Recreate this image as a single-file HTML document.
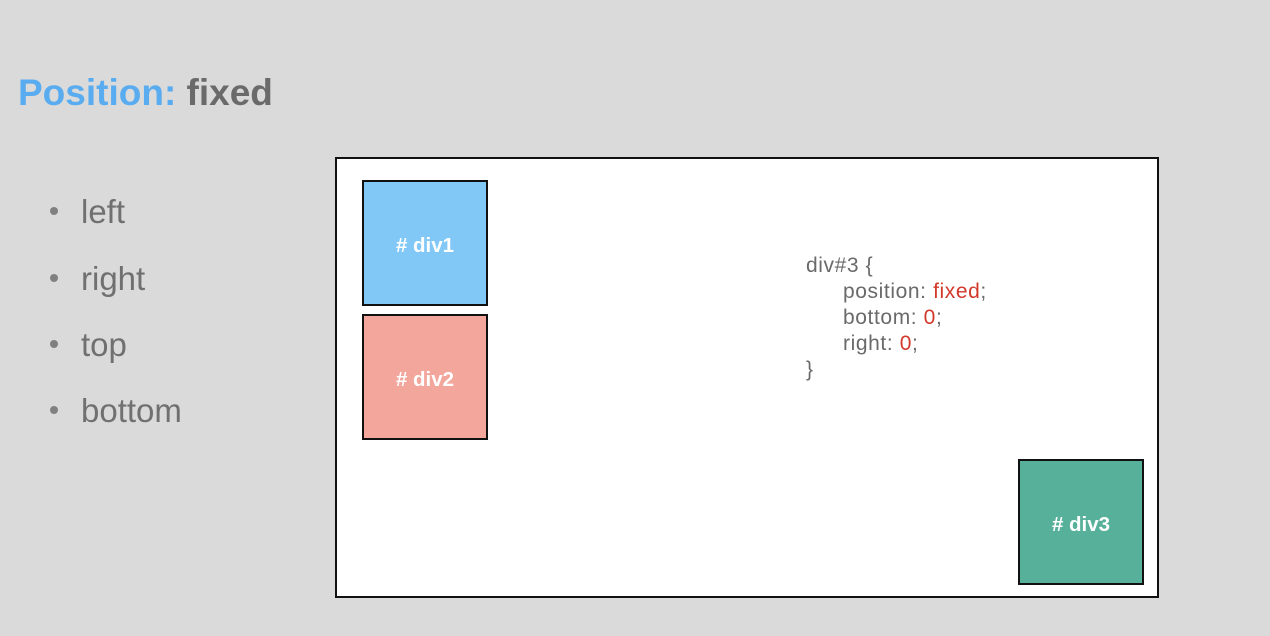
<!DOCTYPE html>
<html><head><meta charset="utf-8"><style>
body{margin:0;width:1270px;height:636px;background:#dadada;font-family:"Liberation Sans",sans-serif;position:relative;overflow:hidden}
.abs{position:absolute}
#title{left:18px;top:72px;font-size:37px;font-weight:bold;color:#6a6a6a;white-space:nowrap}
#title span{color:#5aacf0}
.bullet{left:50px;font-size:33px;color:#707070;white-space:nowrap;line-height:36px}
.bullet b{display:inline-block;width:8px;height:8px;border-radius:50%;background:#808080;margin-right:23px;vertical-align:middle;position:relative;top:-3px}
#frame{left:335px;top:157px;width:820px;height:437px;background:#fff;border:2px solid #111}
.box{width:122px;height:122px;border:2px solid #111;color:#fff;font-size:20.5px;font-weight:bold;display:flex;align-items:center;justify-content:center;box-sizing:content-box;padding-top:0}
.box span{position:relative;top:3px}
#code{left:806px;top:253px;font-size:21px;line-height:26px;color:#6a6a6a;white-space:pre;letter-spacing:0.6px}
#code .r{color:#d2392b}
#code .i{padding-left:37px}
</style></head><body>
<div id="title" class="abs"><span>Position:</span> fixed</div>
<div class="abs bullet" style="top:194px"><b></b>left</div>
<div class="abs bullet" style="top:261px"><b></b>right</div>
<div class="abs bullet" style="top:327px"><b></b>top</div>
<div class="abs bullet" style="top:393px"><b></b>bottom</div>
<div id="frame" class="abs"></div>
<div class="abs box" style="left:362px;top:180px;background:#82c8f6"><span># div1</span></div>
<div class="abs box" style="left:362px;top:314px;background:#f2a69c"><span># div2</span></div>
<div class="abs box" style="left:1018px;top:459px;background:#56b09a"><span># div3</span></div>
<div id="code" class="abs"><div>div#3 {</div><div class="i">position: <span class="r">fixed</span>;</div><div class="i">bottom: <span class="r">0</span>;</div><div class="i">right: <span class="r">0</span>;</div><div>}</div></div>
</body></html>
